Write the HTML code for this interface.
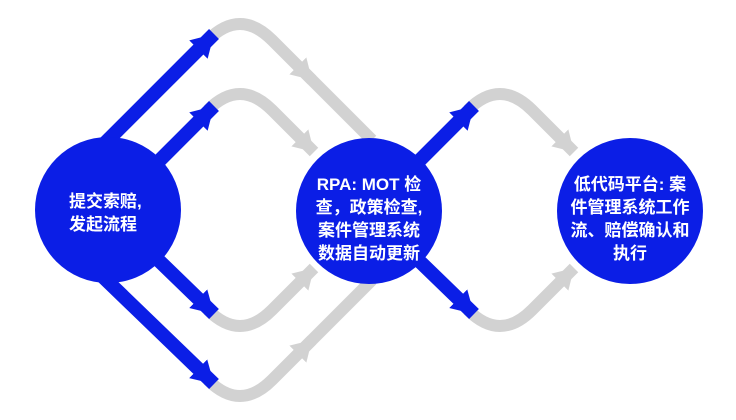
<!DOCTYPE html>
<html><head><meta charset="utf-8"><style>
html,body{margin:0;padding:0;background:#fff;}
svg{display:block}
</style></head><body>
<svg width="736" height="420" viewBox="0 0 736 420" xmlns="http://www.w3.org/2000/svg">
<defs>
<marker id="g" markerUnits="userSpaceOnUse" markerWidth="26" markerHeight="30" refX="20" refY="15" orient="auto"><path d="M0,3 L20,15 L0,27 Z" fill="#d2d2d2"/></marker>
<marker id="b" markerUnits="userSpaceOnUse" markerWidth="26" markerHeight="34" refX="22" refY="17" orient="auto"><path d="M0,4 L22,17 L0,30 Z" fill="#0b1ee6"/></marker>
</defs>
<g fill="none" stroke="#d2d2d2" stroke-width="12" stroke-linejoin="round">
<path d="M208,40 Q240,8 272,40 L312,80" marker-end="url(#g)"/>
<path d="M305,73 L372,140"/>
<path d="M208,110 Q240,78 272,110 L314,152" marker-end="url(#g)"/>
<path d="M208,310 Q240,342 272,310 L314,268" marker-end="url(#g)"/>
<path d="M208,380 Q240,412 272,380 L312,340" marker-end="url(#g)"/>
<path d="M305,347 L372,280"/>
<path d="M468,110 Q500,78 532,110 L574,152" marker-end="url(#g)"/>
<path d="M468,310 Q500,342 532,310 L574,268" marker-end="url(#g)"/>
</g>
<g fill="none" stroke="#0b1ee6" stroke-width="14">
<path d="M100,148 L214,34" marker-end="url(#b)"/>
<path d="M150,170 L214,106" marker-end="url(#b)"/>
<path d="M150,252 L214,314" marker-end="url(#b)"/>
<path d="M100,274 L214,384" marker-end="url(#b)"/>
<path d="M410,170 L474,106" marker-end="url(#b)"/>
<path d="M410,252 L474,314" marker-end="url(#b)"/>
</g>
<circle cx="108" cy="210" r="73" fill="#0b1ee6"/>
<circle cx="369" cy="211" r="73" fill="#0b1ee6"/>
<circle cx="630" cy="211" r="73" fill="#0b1ee6"/>
<g fill="#fff" font-family="Liberation Sans, Noto Sans CJK SC, sans-serif" font-weight="bold" font-size="17">
<text x="69" y="207">提交索赔,</text>
<text x="69" y="230">发起流程</text>
<g text-anchor="middle">
<text x="369" y="190">RPA: MOT 检</text>
<text x="369" y="213">查，政策检查,</text>
<text x="369" y="236">案件管理系统</text>
<text x="369" y="259">数据自动更新</text>
<text x="630" y="190">低代码平台: 案</text>
<text x="630" y="213">件管理系统工作</text>
<text x="630" y="236">流、赔偿确认和</text>
<text x="630" y="259">执行</text>
</g>
</g>
</svg>
</body></html>
